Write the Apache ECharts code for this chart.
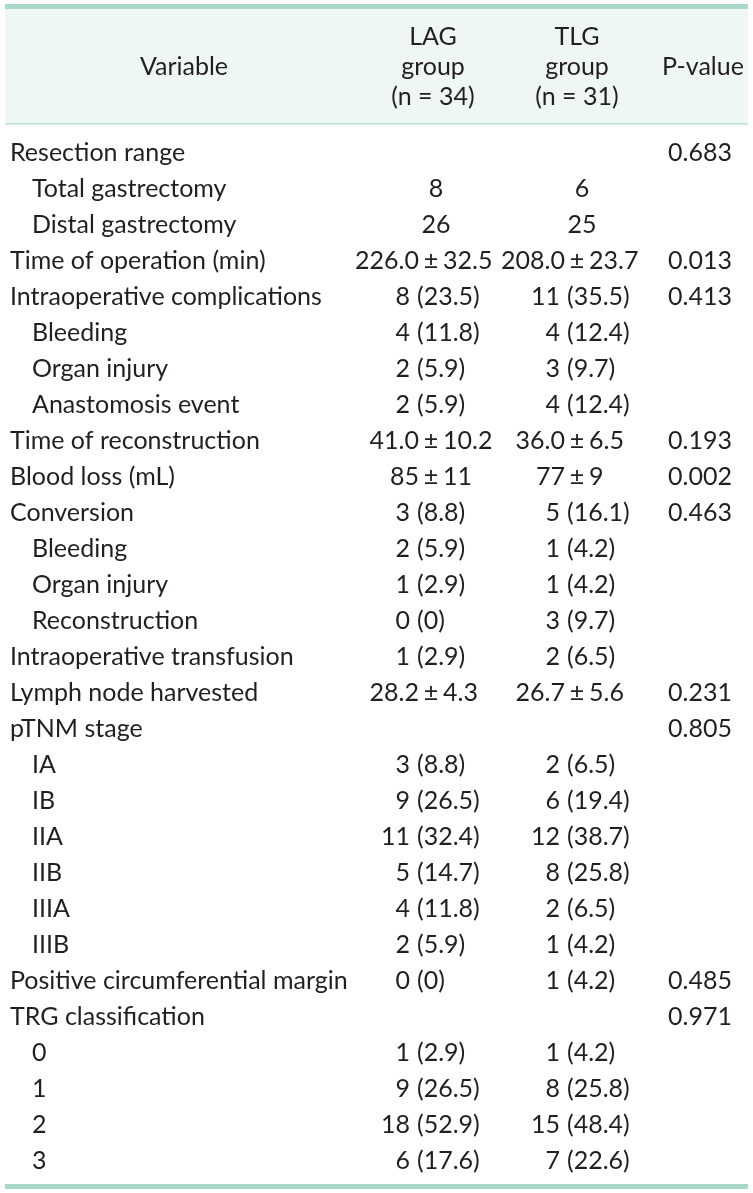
<!DOCTYPE html>
<html><head><meta charset="utf-8">
<script src="https://cdn.jsdelivr.net/npm/echarts@6/dist/echarts.min.js"></script>
<style>html,body{margin:0;padding:0;background:#fff}#c{width:753px;height:1193px}</style>
</head><body><div id="c"></div>
<script>
// ---- data ----
const headerLabels = ["Variable", "LAG\ngroup\n(n = 34)", "TLG\ngroup\n(n = 31)", "P-value"];
const variables = ["Resection range","Total gastrectomy","Distal gastrectomy","Time of operation (min)","Intraoperative complications","Bleeding","Organ injury","Anastomosis event","Time of reconstruction","Blood loss (mL)","Conversion","Bleeding","Organ injury","Reconstruction","Intraoperative transfusion","Lymph node harvested","pTNM stage","IA","IB","IIA","IIB","IIIA","IIIB","Positive circumferential margin","TRG classification","0","1","2","3"];
const levels = [0,1,1,0,0,1,1,1,0,0,0,1,1,1,0,0,0,1,1,1,1,1,1,0,0,1,1,1,1];
const lagValues = ["","8","26","226.0 ± 32.5","8 (23.5)","4 (11.8)","2 (5.9)","2 (5.9)","41.0 ± 10.2","85 ± 11","3 (8.8)","2 (5.9)","1 (2.9)","0 (0)","1 (2.9)","28.2 ± 4.3","","3 (8.8)","9 (26.5)","11 (32.4)","5 (14.7)","4 (11.8)","2 (5.9)","0 (0)","","1 (2.9)","9 (26.5)","18 (52.9)","6 (17.6)"];
const tlgValues = ["","6","25","208.0 ± 23.7","11 (35.5)","4 (12.4)","3 (9.7)","4 (12.4)","36.0 ± 6.5","77 ± 9","5 (16.1)","1 (4.2)","1 (4.2)","3 (9.7)","2 (6.5)","26.7 ± 5.6","","2 (6.5)","6 (19.4)","12 (38.7)","8 (25.8)","2 (6.5)","1 (4.2)","1 (4.2)","","1 (4.2)","8 (25.8)","15 (48.4)","7 (22.6)"];
const pValues = ["0.683","","","0.013","0.413","","","","0.193","0.002","0.463","","","","","0.231","0.805","","","","","","","0.485","0.971","","","",""];

// ---- layout ----
const FONT = 'Lato';
const FS = 25;
const INK = '#231f20';
const TEAL = '#a9d9c8';
const COLS = {
  varLeft: 10, varIndent: 32,
  lag: {paren: 417, pm: 431, plain: 436},
  tlg: {paren: 567, pm: 577, plain: 582},
  p: 700
};

function t(x, y, text, align) {
  return {type: 'text', style: {text, x, y, fill: INK, fontSize: FS, fontFamily: FONT, align, verticalAlign: 'middle'}};
}
function cell(out, s, a, y) {
  if (!s) return;
  if (s.indexOf(' (') > 0) {
    const k = s.indexOf(' (');
    out.push(t(a.paren - 7, y, s.slice(0, k), 'right'));
    out.push(t(a.paren, y, s.slice(k + 1), 'left'));
  } else if (s.indexOf(' ± ') > 0) {
    const parts = s.split(' ± ');
    out.push(t(a.pm - 12, y, parts[0], 'right'));
    out.push(t(a.pm, y, '±', 'center'));
    out.push(t(a.pm + 12, y, parts[1], 'left'));
  } else {
    out.push(t(a.plain, y, s, 'center'));
  }
}

const chart = echarts.init(document.getElementById('c'), null, {renderer: 'canvas'});
chart.setOption({
  animation: false,
  backgroundColor: '#ffffff',
  grid: {left: 0, right: 0, top: 135, bottom: 14},
  xAxis: {type: 'value', min: 0, max: 753, show: false},
  yAxis: {type: 'category', data: variables, inverse: true, show: false},
  graphic: [
    {type: 'rect', shape: {x: 5, y: 9, width: 743, height: 114}, style: {fill: '#eef7f3'}, silent: true},
    {type: 'rect', shape: {x: 5, y: 4, width: 743, height: 5}, style: {fill: TEAL}, silent: true},
    {type: 'rect', shape: {x: 5, y: 123, width: 743, height: 1.5}, style: {fill: '#b9e0d2'}, silent: true},
    {type: 'rect', shape: {x: 5, y: 1184, width: 743, height: 5}, style: {fill: TEAL}, silent: true},
    {type: 'text', style: {text: headerLabels[0], x: 184, y: 67, fill: INK, fontSize: FS, fontFamily: FONT, align: 'center', verticalAlign: 'middle'}},
    {type: 'text', style: {text: headerLabels[1], x: 433, y: 67, fill: INK, fontSize: FS, fontFamily: FONT, align: 'center', verticalAlign: 'middle', lineHeight: 30}},
    {type: 'text', style: {text: headerLabels[2], x: 577, y: 67, fill: INK, fontSize: FS, fontFamily: FONT, align: 'center', verticalAlign: 'middle', lineHeight: 30}},
    {type: 'text', style: {text: headerLabels[3], x: 703, y: 67, fill: INK, fontSize: FS, fontFamily: FONT, align: 'center', verticalAlign: 'middle'}}
  ],
  series: [{
    type: 'custom',
    data: variables.map((v, i) => [0, i]),
    encode: {x: 0, y: 1},
    renderItem: function (params, api) {
      const i = params.dataIndex;
      const y = api.coord([0, i])[1];
      const X = v => api.coord([v, i])[0];
      const out = [];
      out.push(t(X(levels[i] ? COLS.varIndent : COLS.varLeft), y, variables[i], 'left'));
      cell(out, lagValues[i], {paren: X(COLS.lag.paren), pm: X(COLS.lag.pm), plain: X(COLS.lag.plain)}, y);
      cell(out, tlgValues[i], {paren: X(COLS.tlg.paren), pm: X(COLS.tlg.pm), plain: X(COLS.tlg.plain)}, y);
      if (pValues[i]) out.push(t(X(COLS.p), y, pValues[i], 'center'));
      return {type: 'group', children: out};
    }
  }]
});
</script>
</body></html>
